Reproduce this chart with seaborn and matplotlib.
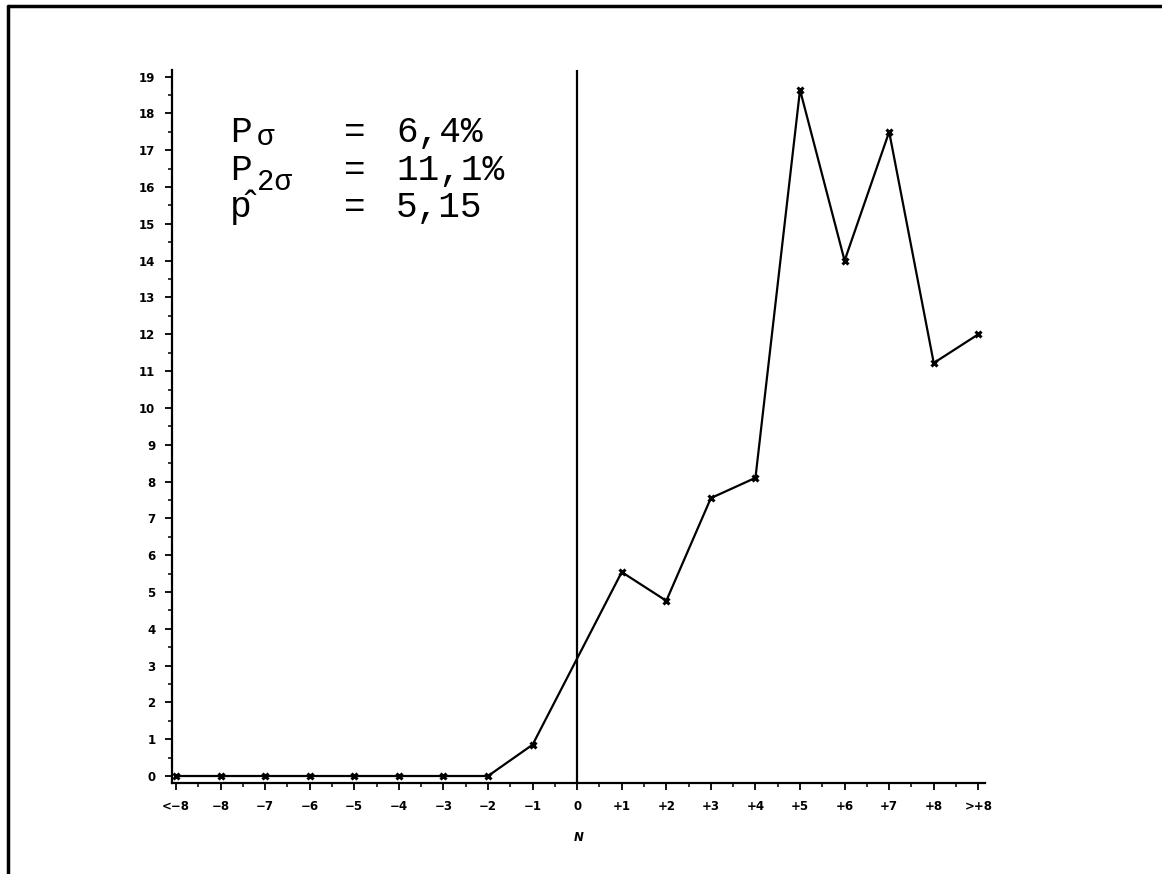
import matplotlib
matplotlib.use("Agg")
import matplotlib.pyplot as plt
from matplotlib.lines import Line2D
from matplotlib.ticker import MultipleLocator
import seaborn as sns
import pandas as pd

# ---- data ----
tick_labels = ["<\u22128", "\u22128", "\u22127", "\u22126", "\u22125", "\u22124", "\u22123", "\u22122", "\u22121", "0",
               "+1", "+2", "+3", "+4", "+5", "+6", "+7", "+8", ">+8"]
data_categories = ["<\u22128", "\u22128", "\u22127", "\u22126", "\u22125", "\u22124", "\u22123", "\u22122", "\u22121",
                   "+1", "+2", "+3", "+4", "+5", "+6", "+7", "+8", ">+8"]
values = [0.0, 0.0, 0.0, 0.0, 0.0, 0.0, 0.0, 0.0, 0.85,
          5.54, 4.76, 7.55, 8.1, 18.64, 14.0, 17.5, 11.22, 12.0]
y_ticks = list(range(0, 20))
stat_names = ["P", "P", "p\u0302"]
stat_subs = ["\u03c3", "2\u03c3", ""]
stat_values = ["6,4%", "11,1%", "5,15"]
x_label = "N"

sns.set_style("ticks")
plt.rcParams["font.family"] = ["DejaVu Sans"]
plt.rcParams["text.color"] = "black"
plt.rcParams["xtick.color"] = "black"
plt.rcParams["ytick.color"] = "black"
plt.rcParams["axes.labelcolor"] = "black"

W, H = 1162, 874
fig = plt.figure(figsize=(W / 100, H / 100), dpi=100)
ax = fig.add_axes([172 / W, 1 - 783 / H, (985 - 172) / W, (783 - 70) / H])

pos = {lab: i for i, lab in enumerate(tick_labels)}
df = pd.DataFrame({"x": [pos[c] for c in data_categories], "y": values})
sns.lineplot(data=df, x="x", y="y", ax=ax, color="black", lw=1.6, sort=False,
             marker="x", markersize=5, markeredgewidth=2.2, markeredgecolor="black")

ax.axvline(pos["0"], color="black", lw=1.6)

ax.set_xlim(-0.09, 18.15)
ax.set_ylim(-0.19, 19.18)
ax.set_xticks(range(len(tick_labels)))
ax.set_xticklabels(tick_labels, fontsize=8.5, fontweight="bold")
ax.set_yticks(y_ticks)
ax.set_yticklabels([str(v) for v in y_ticks], fontsize=8.5, fontweight="bold")
ax.xaxis.set_minor_locator(MultipleLocator(0.5))
ax.yaxis.set_minor_locator(MultipleLocator(0.5))
ax.tick_params(which="major", direction="out", length=5, width=1.3, colors="black", pad=7)
ax.tick_params(which="minor", direction="out", length=3, width=1.1, colors="black")
ax.set_xlabel(x_label, fontsize=8.5, fontweight="bold", style="italic", labelpad=13)
ax.set_ylabel("")
for s in ["top", "right"]:
    ax.spines[s].set_visible(False)
for s in ["left", "bottom"]:
    ax.spines[s].set_linewidth(1.6)
    ax.spines[s].set_color("black")

# annotation block (monospace)
mono = "Liberation Mono"
baselines = [142, 180, 217]
sub_offsets = [3, 10, 0]
for name, sub, val, yb, so in zip(stat_names, stat_subs, stat_values, baselines, sub_offsets):
    fig.text(230 / W, 1 - yb / H, name, family=mono, fontsize=26, va="baseline", ha="left", color="black")
    if sub:
        fig.text(257 / W, 1 - (yb + so) / H, sub, family=mono, fontsize=21, va="baseline", ha="left", color="black")
    fig.text(344 / W, 1 - yb / H, "=", family=mono, fontsize=26, va="baseline", ha="left", color="black")
    fig.text(396 / W, 1 - yb / H, val, family=mono, fontsize=26, va="baseline", ha="left", color="black")

# page border (left and top)
fig.add_artist(Line2D([8 / W, 8 / W], [0, 1 - 6 / H], transform=fig.transFigure, color="black", lw=2.5))
fig.add_artist(Line2D([8 / W, 1], [1 - 6 / H, 1 - 6 / H], transform=fig.transFigure, color="black", lw=2.5))

fig.savefig("out.png", dpi=100, facecolor="white")
